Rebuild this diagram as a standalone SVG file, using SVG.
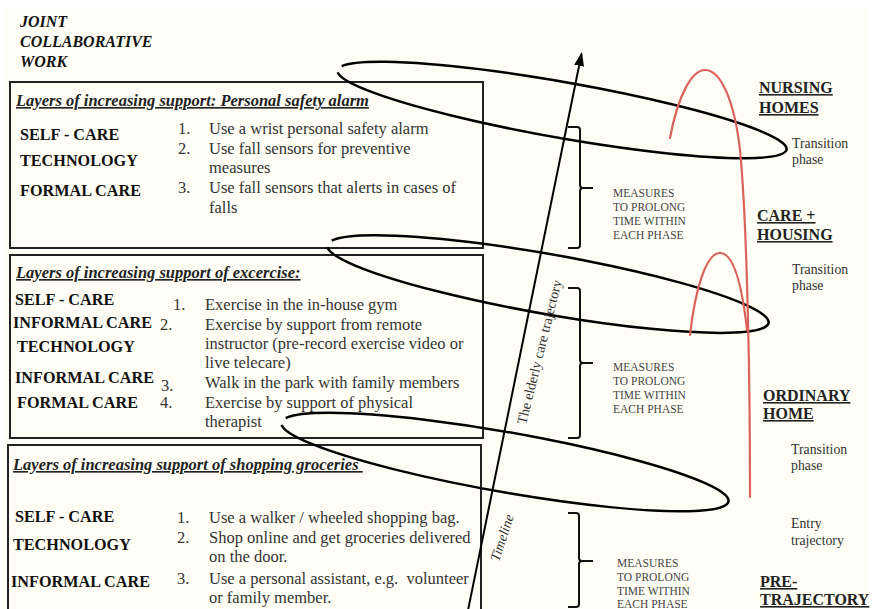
<svg xmlns="http://www.w3.org/2000/svg" width="873" height="609" viewBox="0 0 873 609">
  <style>
    text { font-family: "Liberation Serif", "Times New Roman", serif; }
    .ttl { font-size: 16px; font-weight: bold; font-style: italic; fill: #111; }
    .hd { font-size: 16.5px; font-weight: bold; font-style: italic; fill: #222; text-decoration: underline; }
    .lbl { font-size: 16.2px; font-weight: bold; fill: #111; }
    .item { font-size: 16.5px; fill: #333; }
    .meas { font-size: 11.5px; fill: #444; }
    .phase { font-size: 16px; font-weight: bold; fill: #222; text-decoration: underline; }
    .note { font-size: 13.8px; fill: #333; }
    .axis { font-size: 14px; fill: #333; }
    .box { fill: none; stroke: #222; stroke-width: 2; }
    .brace { fill: none; stroke: #111; stroke-width: 2; }
    .loop { fill: none; stroke: #000; stroke-width: 2.5; }
    .arc { fill: none; stroke: #d9625b; stroke-width: 2.2; stroke-linecap: round; }
  </style>
  <defs>
    <marker id="arrowhead" viewBox="0 0 14 10" refX="12" refY="5" markerWidth="14" markerHeight="10" markerUnits="userSpaceOnUse" orient="auto">
      <path d="M0,0 L14,5 L0,10 z" fill="#000"/>
    </marker>
  </defs>

  <!-- page -->
  <rect x="0" y="0" width="873" height="609" fill="#ffffff"/>
  <rect x="3" y="7" width="866" height="602" fill="#fefef6"/>

  <!-- heading -->
  <g id="joint-work">
    <text class="ttl" x="20" y="27">JOINT</text>
    <text class="ttl" x="20" y="47">COLLABORATIVE</text>
    <text class="ttl" x="20" y="67">WORK</text>
  </g>

  <!-- layer box: personal safety alarm -->
  <g id="box-alarm">
    <rect class="box" x="10" y="82" width="473" height="166"/>
    <text class="hd" x="16" y="106">Layers of increasing support: Personal safety alarm</text>
    <text class="lbl" x="20" y="140">SELF - CARE</text>
    <text class="lbl" x="20" y="166">TECHNOLOGY</text>
    <text class="lbl" x="20" y="196">FORMAL CARE</text>
    <text class="item" x="178" y="134">1.</text>
    <text class="item" x="209" y="134">Use a wrist personal safety alarm</text>
    <text class="item" x="178" y="154">2.</text>
    <text class="item" x="209" y="154">Use fall sensors for preventive</text>
    <text class="item" x="209" y="173">measures</text>
    <text class="item" x="178" y="193">3.</text>
    <text class="item" x="209" y="193">Use fall sensors that alerts in cases of</text>
    <text class="item" x="209" y="213">falls</text>
  </g>

  <!-- layer box: exercise -->
  <g id="box-exercise">
    <rect class="box" x="10" y="255" width="473" height="183"/>
    <text class="hd" x="16" y="278">Layers of increasing support of excercise:</text>
    <text class="lbl" x="15" y="305">SELF - CARE</text>
    <text class="lbl" x="13" y="328">INFORMAL CARE</text>
    <text class="lbl" x="17" y="352">TECHNOLOGY</text>
    <text class="lbl" x="15" y="383">INFORMAL CARE</text>
    <text class="lbl" x="17" y="408">FORMAL CARE</text>
    <text class="item" x="173" y="310">1.</text>
    <text class="item" x="205" y="310">Exercise in the in-house gym</text>
    <text class="item" x="160" y="330">2.</text>
    <text class="item" x="205" y="330">Exercise by support from remote</text>
    <text class="item" x="205" y="349">instructor (pre-record exercise video or</text>
    <text class="item" x="205" y="368">live telecare)</text>
    <text class="item" x="161" y="391">3.</text>
    <text class="item" x="205" y="388">Walk in the park with family members</text>
    <text class="item" x="160" y="408">4.</text>
    <text class="item" x="205" y="408">Exercise by support of physical</text>
    <text class="item" x="205" y="427">therapist</text>
  </g>

  <!-- layer box: shopping groceries -->
  <g id="box-shopping">
    <rect class="box" x="8" y="445" width="473" height="175"/>
    <text class="hd" x="13" y="470" xml:space="preserve">Layers of increasing support of shopping groceries </text>
    <text class="lbl" x="15" y="522">SELF - CARE</text>
    <text class="lbl" x="13" y="550">TECHNOLOGY</text>
    <text class="lbl" x="11" y="587">INFORMAL CARE</text>
    <text class="item" x="177" y="523">1.</text>
    <text class="item" x="209" y="523">Use a walker / wheeled shopping bag.</text>
    <text class="item" x="177" y="543">2.</text>
    <text class="item" x="209" y="543">Shop online and get groceries delivered</text>
    <text class="item" x="209" y="562">on the door.</text>
    <text class="item" x="177" y="584">3.</text>
    <text class="item" x="209" y="584" xml:space="preserve">Use a personal assistant, e.g.  volunteer</text>
    <text class="item" x="209" y="603">or family member.</text>
  </g>

  <!-- measures braces -->
  <g id="measures-1">
    <path class="brace" d="M568,127 H577 Q580,127 580,130 V185 Q580,188 583,188 H593 M583,188 Q580,188 580,191 V245 Q580,248 577,248 H568"/>
    <text class="meas" x="613" y="197">MEASURES</text>
    <text class="meas" x="613" y="211">TO PROLONG</text>
    <text class="meas" x="613" y="225">TIME WITHIN</text>
    <text class="meas" x="613" y="239">EACH PHASE</text>
  </g>
  <g id="measures-2">
    <path class="brace" d="M568,288 H577 Q580,288 580,291 V360 Q580,363 583,363 H593 M583,363 Q580,363 580,366 V435 Q580,438 577,438 H568"/>
    <text class="meas" x="613" y="371">MEASURES</text>
    <text class="meas" x="613" y="385">TO PROLONG</text>
    <text class="meas" x="613" y="399">TIME WITHIN</text>
    <text class="meas" x="613" y="413">EACH PHASE</text>
  </g>
  <g id="measures-3">
    <path class="brace" d="M568,513 H576 Q579,513 579,516 V558 Q579,561 582,561 H593 M582,561 Q579,561 579,564 V604 Q579,607 576,607 H568"/>
    <text class="meas" x="617" y="567">MEASURES</text>
    <text class="meas" x="617" y="581">TO PROLONG</text>
    <text class="meas" x="617" y="595">TIME WITHIN</text>
    <text class="meas" x="617" y="608">EACH PHASE</text>
  </g>

  <!-- care phases -->
  <g id="phase-nursing">
    <text class="phase" x="759" y="93">NURSING</text>
    <text class="phase" x="759" y="113">HOMES</text>
  </g>
  <g id="transition-1">
    <text class="note" x="792" y="148">Transition</text>
    <text class="note" x="792" y="164">phase</text>
  </g>
  <g id="phase-care-housing">
    <text class="phase" x="757" y="221">CARE +</text>
    <text class="phase" x="757" y="240">HOUSING</text>
  </g>
  <g id="transition-2">
    <text class="note" x="792" y="274">Transition</text>
    <text class="note" x="792" y="290">phase</text>
  </g>
  <g id="phase-ordinary-home">
    <text class="phase" x="763" y="401">ORDINARY</text>
    <text class="phase" x="763" y="419">HOME</text>
  </g>
  <g id="transition-3">
    <text class="note" x="791" y="454">Transition</text>
    <text class="note" x="791" y="470">phase</text>
  </g>
  <g id="entry-trajectory">
    <text class="note" x="791" y="528">Entry</text>
    <text class="note" x="791" y="545">trajectory</text>
  </g>
  <g id="phase-pre-trajectory">
    <text class="phase" x="760" y="587">PRE-</text>
    <text class="phase" x="760" y="605">TRAJECTORY</text>
  </g>

  <!-- connectors: transition loops, timeline and phase arcs -->
  <g id="connectors">
    <path class="loop" d="M337.7,72.4 A228,28 10 1 0 341.7,66.2"/>
    <path class="loop" d="M327.5,247.3 A224,30 10 1 0 331.7,240.6"/>
    <path class="loop" d="M281.6,424.8 A227,30 10 1 0 285.7,418.1"/>
    <line x1="466" y1="620" x2="581.5" y2="54" stroke="#000" stroke-width="2" marker-end="url(#arrowhead)"/>
    <path class="arc" d="M670,138 C678,95 692,70 705,70 C722,70 735,105 740,150 C746,210 750,350 750,497"/>
    <path class="arc" d="M690,335 C695,290 706,253 720,253 C734,253 742,285 747,330"/>
  </g>

  <!-- timeline captions -->
  <g id="timeline-labels">
    <text class="axis" transform="translate(526,425) rotate(-76)">The elderly care trajectory</text>
    <text class="axis" font-style="italic" transform="translate(499,562) rotate(-72)">Timeline</text>
  </g>
</svg>
